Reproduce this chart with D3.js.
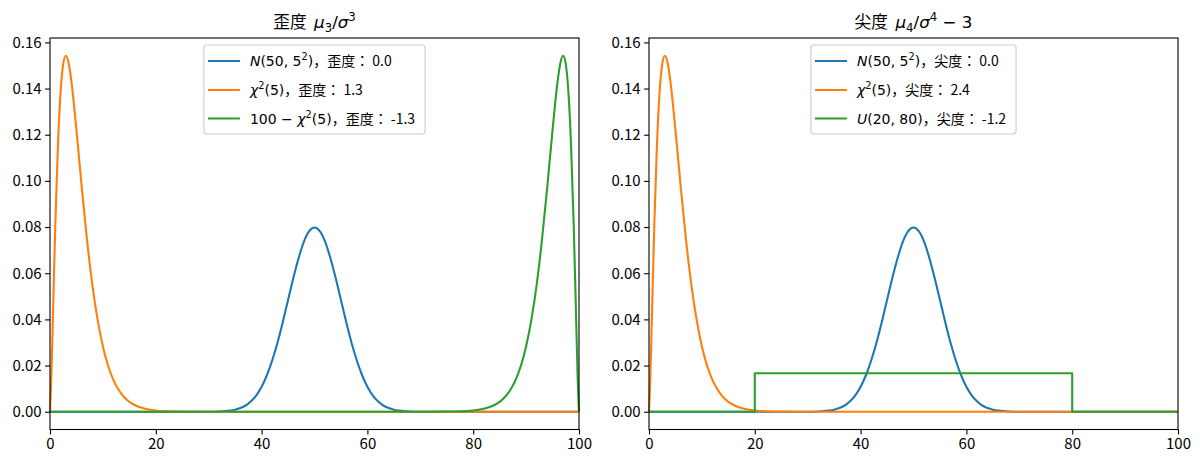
<!DOCTYPE html>
<html lang="ja">
<head>
<meta charset="UTF-8">
<title>歪度と尖度</title>
<script src="https://cdn.jsdelivr.net/npm/d3@7"></script>
<style>
  body { margin: 0; background: #fff; }
  text { font-family: "Noto Sans CJK JP", sans-serif; }
</style>
</head>
<body>
<script>
// values
// chi^2(5) density
const chiX = [0, 0.25, 0.5, 1, 1.5, 2, 2.5, 3, 3.5, 4, 5, 6, 7, 8, 9, 10, 11, 12, 13, 14, 15, 16, 17, 18, 20, 22, 25, 30, 40, 60, 100];
const chiY = [0, 0.0147, 0.0366, 0.0807, 0.1154, 0.1384, 0.1506, 0.1542, 0.1513, 0.1440, 0.1220, 0.0973, 0.0744, 0.0551, 0.0399, 0.0283, 0.0198, 0.0137, 0.0094, 0.0064, 0.0043, 0.0029, 0.0019, 0.0013, 0.0005, 0.0002, 0.0001, 0, 0, 0, 0];

// 100 - chi^2(5) density
const revX = [0, 40, 60, 70, 75, 78, 80, 82, 83, 84, 85, 86, 87, 88, 89, 90, 91, 92, 93, 94, 95, 96, 96.5, 97, 97.5, 98, 98.5, 99, 99.5, 99.75, 100];
const revY = [0, 0, 0, 0, 0.0001, 0.0002, 0.0005, 0.0013, 0.0019, 0.0029, 0.0043, 0.0064, 0.0094, 0.0137, 0.0198, 0.0283, 0.0399, 0.0551, 0.0744, 0.0973, 0.1220, 0.1440, 0.1513, 0.1542, 0.1506, 0.1384, 0.1154, 0.0807, 0.0366, 0.0147, 0];

// N(50, 5^2) density
const normX = [0, 30, 32, 34, 35, 36, 37, 38, 39, 40, 41, 42, 43, 44, 45, 46, 47, 48, 49, 50,
  51, 52, 53, 54, 55, 56, 57, 58, 59, 60, 61, 62, 63, 64, 65, 66, 68, 70, 100];
const normY = [0, 0, 0.0001, 0.0005, 0.0009, 0.0016, 0.0027, 0.0045, 0.0071, 0.0108, 0.0158, 0.0222, 0.0299, 0.0388, 0.0484, 0.0579, 0.0666, 0.0737, 0.0782, 0.0798,
  0.0782, 0.0737, 0.0666, 0.0579, 0.0484, 0.0388, 0.0299, 0.0222, 0.0158, 0.0108, 0.0071, 0.0045, 0.0027, 0.0016, 0.0009, 0.0005, 0.0001, 0, 0];

// U(20, 80) density
const uniX = [0, 20, 20, 80, 80, 100];
const uniY = [0, 0, 0.0167, 0.0167, 0, 0];

const xTicks = [0, 20, 40, 60, 80, 100];
const yTicks = [0, 0.02, 0.04, 0.06, 0.08, 0.10, 0.12, 0.14, 0.16];

const blue = "#1f77b4", orange = "#ff7f0e", green = "#2ca02c";

// text pieces: [text, kind, shift]  kind: c = CJK, r = roman math, i = italic math
const leftTitle = [["歪度\u00a0\u00a0", "c"], ["μ", "i"], ["3", "r", "sub"], ["/", "r"], ["σ", "i"], ["3", "r", "sup"]];
const rightTitle = [["尖度\u00a0\u00a0", "c"], ["μ", "i"], ["4", "r", "sub"], ["/", "r"], ["σ", "i"], ["4", "r", "sup"], ["\u00a0−\u00a03", "r"]];

const leftLabels = [
  [["N", "i"], ["(50, 5", "r"], ["2", "r", "sup"], [")", "r"], ["，歪度：\u00a00.0", "c"]],
  [["χ", "i"], ["2", "r", "sup"], ["(5)", "r"], ["，歪度：\u00a01.3", "c"]],
  [["100 − ", "r"], ["χ", "i"], ["2", "r", "sup"], ["(5)", "r"], ["，歪度：\u00a0-1.3", "c"]]
];
const rightLabels = [
  [["N", "i"], ["(50, 5", "r"], ["2", "r", "sup"], [")", "r"], ["，尖度：\u00a00.0", "c"]],
  [["χ", "i"], ["2", "r", "sup"], ["(5)", "r"], ["，尖度：\u00a02.4", "c"]],
  [["U", "i"], ["(20, 80)", "r"], ["，尖度：\u00a0-1.2", "c"]]
];

const width = 1200, height = 465;
const plotTop = 38, plotBottom = 429.5, plotW = 529;

const svg = d3.select("body").append("svg")
  .attr("width", width)
  .attr("height", height);

function richText(sel, parts, size) {
  parts.forEach(p => {
    const t = sel.append("tspan").text(p[0]);
    if (p[1] === "c") t.attr("font-family", "'Noto Sans CJK JP', sans-serif");
    else t.attr("font-family", "'DejaVu Sans', sans-serif");
    if (p[1] === "i") t.attr("font-style", "italic");
    if (p[2] === "sup") t.attr("font-size", size * 0.7).attr("baseline-shift", size * 0.4 + "px");
    if (p[2] === "sub") t.attr("font-size", size * 0.7).attr("baseline-shift", -size * 0.22 + "px");
  });
}

function panel(left, title, series, labels) {
  const x = d3.scaleLinear().domain([0, 100]).range([left, left + plotW]);
  const y = d3.scaleLinear().domain([-0.0077, 0.1619]).range([plotBottom, plotTop]);

  const g = svg.append("g");

  // lines
  series.forEach(s => {
    const pts = s.xs.map((v, i) => [v, s.ys[i]]);
    const line = d3.line()
      .x(d => x(d[0]))
      .y(d => y(d[1]))
      .curve(s.step ? d3.curveLinear : d3.curveMonotoneX);
    g.append("path")
      .attr("d", line(pts))
      .attr("fill", "none")
      .attr("stroke", s.color)
      .attr("stroke-width", 2.1)
      .attr("stroke-linejoin", "round");
  });

  // axes
  const xAxis = d3.axisBottom(x).tickValues(xTicks).tickFormat(d3.format("d"))
    .tickSize(4.9).tickPadding(3.5);
  const yAxis = d3.axisLeft(y).tickValues(yTicks).tickFormat(d3.format(".2f"))
    .tickSize(4.9).tickPadding(3.5);

  g.append("g").attr("transform", `translate(0,${plotBottom})`).call(xAxis)
    .call(a => a.select(".domain").remove());
  g.append("g").attr("transform", `translate(${left},0)`).call(yAxis)
    .call(a => a.select(".domain").remove());
  g.selectAll(".tick text")
    .attr("font-family", "'Noto Sans CJK JP', sans-serif")
    .attr("font-size", 15)
    .attr("fill", "#000");
  g.selectAll(".tick line").attr("stroke", "#000").attr("stroke-width", 1.1);

  g.append("rect")
    .attr("x", left).attr("y", plotTop)
    .attr("width", plotW).attr("height", plotBottom - plotTop)
    .attr("fill", "none").attr("stroke", "#000").attr("stroke-width", 1.1);

  // title
  const tt = svg.append("text")
    .attr("x", left + plotW / 2).attr("y", 28)
    .attr("text-anchor", "middle")
    .attr("font-size", 16.7)
    .attr("fill", "#000");
  richText(tt, title, 16.7);

  // legend
  const lg = svg.append("g");
  const box = lg.append("rect")
    .attr("fill", "#fff").attr("fill-opacity", 0.8)
    .attr("stroke", "#cccccc").attr("stroke-width", 1.1)
    .attr("rx", 3);
  let maxW = 0;
  const rowY = [61, 90, 118.5];
  labels.forEach((lab, i) => {
    lg.append("line")
      .attr("x1", 4).attr("x2", 36)
      .attr("y1", rowY[i]).attr("y2", rowY[i])
      .attr("stroke", series[i].color).attr("stroke-width", 2.1);
    const t = lg.append("text")
      .attr("x", 46).attr("y", rowY[i] + 5)
      .attr("font-size", 14)
      .attr("fill", "#000");
    richText(t, lab, 14);
    maxW = Math.max(maxW, t.node().getComputedTextLength());
  });
  const boxW = 46 + maxW + 10;
  box.attr("x", 0).attr("y", 45).attr("width", boxW).attr("height", 89);
  lg.attr("transform", `translate(${left + plotW / 2 - boxW / 2},0)`);
}

panel(50, leftTitle, [
  { xs: normX, ys: normY, color: blue },
  { xs: chiX, ys: chiY, color: orange },
  { xs: revX, ys: revY, color: green }
], leftLabels);

panel(649, rightTitle, [
  { xs: normX, ys: normY, color: blue },
  { xs: chiX, ys: chiY, color: orange },
  { xs: uniX, ys: uniY, color: green, step: true }
], rightLabels);
</script>
</body>
</html>
